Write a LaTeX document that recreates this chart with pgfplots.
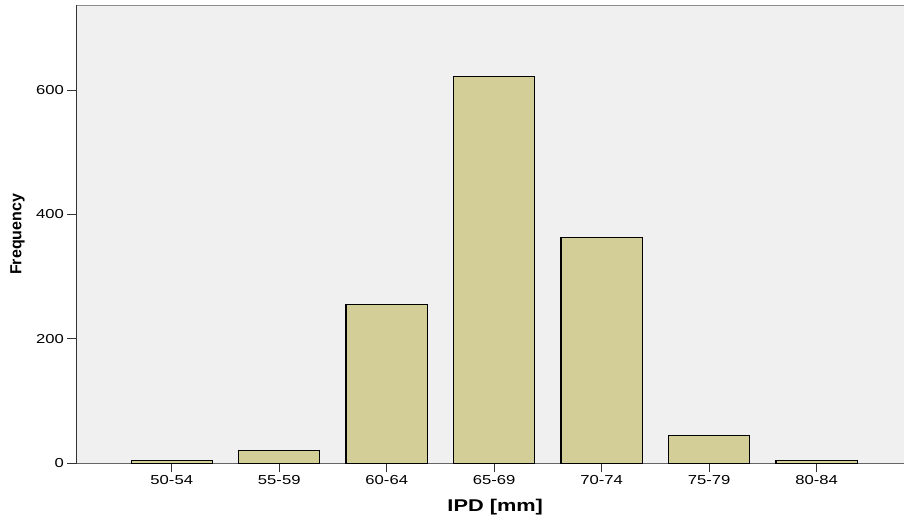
\documentclass[border=0pt]{standalone}
\usepackage{fontspec}
\setmainfont{Liberation Sans}
\newfontfamily\wide[FakeStretch=1.28]{Liberation Sans}
\usepackage{pgfplots}
\pgfplotsset{compat=1.18}
\usetikzlibrary{calc}
\definecolor{barfill}{RGB}{211,206,152}
\definecolor{bgcol}{RGB}{240,240,240}
\begin{document}
\begin{tikzpicture}
\begin{axis}[name=ax, scale only axis, width=827.5pt, height=457.8pt,
 xmin=-0.886, xmax=6.812, ymin=0, ymax=736,
 axis lines*=left, axis line style={-},
 x axis line style={draw=black!60, line width=1.4pt},
 y axis line style={draw=black!80, line width=1.2pt},
 axis background/.style={fill=bgcol},
 xtick={0,1,2,3,4,5,6},
 xticklabels={50-54,55-59,60-64,65-69,70-74,75-79,80-84},
 ytick={0,200,400,600},
 tick align=outside, major tick length=9pt,
 tick style={black!80, line width=1pt},
 ticklabel style={font=\wide\fontsize{13}{15}\selectfont},
 /pgf/number format/assume math mode=true,
 xlabel={IPD [mm]}, ylabel={Frequency},
 xlabel style={at={(axis description cs:0.506,0)}, yshift=-44pt, anchor=center, font=\wide\bfseries\fontsize{17}{19}\selectfont},
 ylabel style={at={(axis description cs:-0.0713,0.5)}, anchor=center, rotate=0, font=\bfseries\fontsize{16}{18}\selectfont},
 ]
\addplot[ybar, bar width=0.757, fill=barfill, draw=black, line width=1.1pt] coordinates {(0,5) (1,20) (2,256) (3,622) (4,363) (5,44) (6,4)};
\draw[black!45, line width=1.2pt] (rel axis cs:0,1) -- (rel axis cs:1,1);
\end{axis}
\pgfresetboundingbox
\path[use as bounding box] ($(ax.south west)+(-76.5pt,-55.7pt)$) rectangle ($(ax.north east)+(0,5.5pt)$);
\end{tikzpicture}
\end{document}
